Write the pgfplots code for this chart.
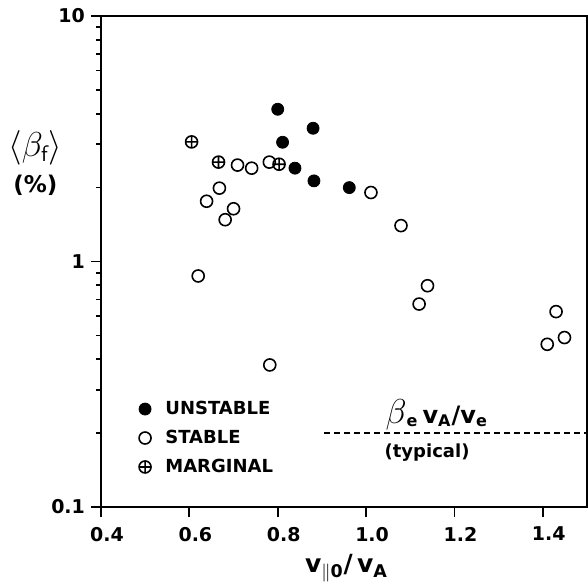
\documentclass[border=0pt]{standalone}
\usepackage{fontspec}
\setmainfont{DejaVu Sans}
\usepackage{pgfplots}
\pgfplotsset{compat=1.18}
\begin{document}
\begin{tikzpicture}
\begin{axis}[
  name=ax,
  scale only axis,
  width=243pt, height=245.5pt,
  xmin=0.4, xmax=1.5,
  ymode=log, ymin=0.1, ymax=10,
  axis line style={line width=1pt},
  xtick={0.4,0.6,0.8,1.0,1.2,1.4},
  xticklabels={0.4,0.6,0.8,1.0,1.2,1.4},
  ytick={0.1,1,10},
  yticklabels={0.1,1,10},
  xtick pos=bottom, ytick pos=left,
  tick align=outside,
  major tick length=5pt, minor tick length=2.5pt,
  tick style={line width=0.9pt, black},
  /pgf/number format/assume math mode=true,
  ticklabel style={font=\fontsize{9.5}{11}\selectfont\bfseries},
  xticklabel style={yshift=-1.5pt, xshift=3pt},
  yticklabel style={xshift=0.5pt},
  xlabel={v\textsubscript{$\|$0}/\,v\textsubscript{A}},
  xlabel style={font=\fontsize{12.5}{14}\selectfont\bfseries, at={(axis description cs:0.505,-0.125)}, anchor=center},
  ylabel={\fontsize{16}{18}\selectfont$\langle\beta_{\mathsf{f}}\rangle$\\[4pt](\%)},
  ylabel style={rotate=-90, align=center, font=\fontsize{11.5}{13}\selectfont\bfseries, at={(axis description cs:-0.135,0.70)}, anchor=center},
  legend style={draw=none, fill=none, at={(axis description cs:0.065,0.1405)}, anchor=west,
    font=\fontsize{9}{10}\selectfont\bfseries, row sep=2.3pt, inner sep=1pt},
  legend cell align=left,
  legend image code/.code={\draw[#1] plot coordinates {(0.17cm,0cm)}; \path (0cm,0cm) (0.45cm,0cm);},
  clip=false,
]
\addplot[only marks, mark=*, mark size=3pt, mark options={fill=black, draw=black}] coordinates {
(0.800,4.17) (0.811,3.06) (0.880,3.49) (0.839,2.40) (0.882,2.13) (0.962,2.00)
};
\addlegendentry{UNSTABLE}
\addplot[only marks, mark=o, mark size=3pt, mark options={line width=0.8pt, draw=black}] coordinates {
(1.011,1.91) (1.079,1.40) (1.139,0.797) (1.120,0.671) (1.430,0.625) (1.410,0.460)
(1.449,0.49) (0.782,0.379) (0.620,0.873) (0.639,1.76) (0.668,1.99) (0.681,1.48)
(0.700,1.64) (0.709,2.47) (0.741,2.40) (0.781,2.54)
};
\addlegendentry{STABLE}
\addplot[only marks, mark=oplus, mark size=3pt, mark options={line width=0.8pt, draw=black}] coordinates {
(0.605,3.07) (0.666,2.54) (0.803,2.49)
};
\addlegendentry{MARGINAL}
\addplot[densely dashed, line width=0.8pt, forget plot] coordinates {(0.905,0.2) (1.5,0.2)};
\node[font=\fontsize{12}{13}\selectfont\bfseries] at (axis cs:1.16,0.238)
  {{\fontsize{16}{17}\selectfont$\beta$}\textsubscript{e}\,v\textsubscript{A}/v\textsubscript{e}};
\node[font=\fontsize{9}{10}\selectfont\bfseries] at (axis cs:1.138,0.167) {(typical)};
\end{axis}
\pgfresetboundingbox
\path ([xshift=-50.5pt,yshift=-40.5pt]ax.south west) rectangle ([xshift=0.5pt,yshift=8pt]ax.north east);
\end{tikzpicture}
\end{document}
